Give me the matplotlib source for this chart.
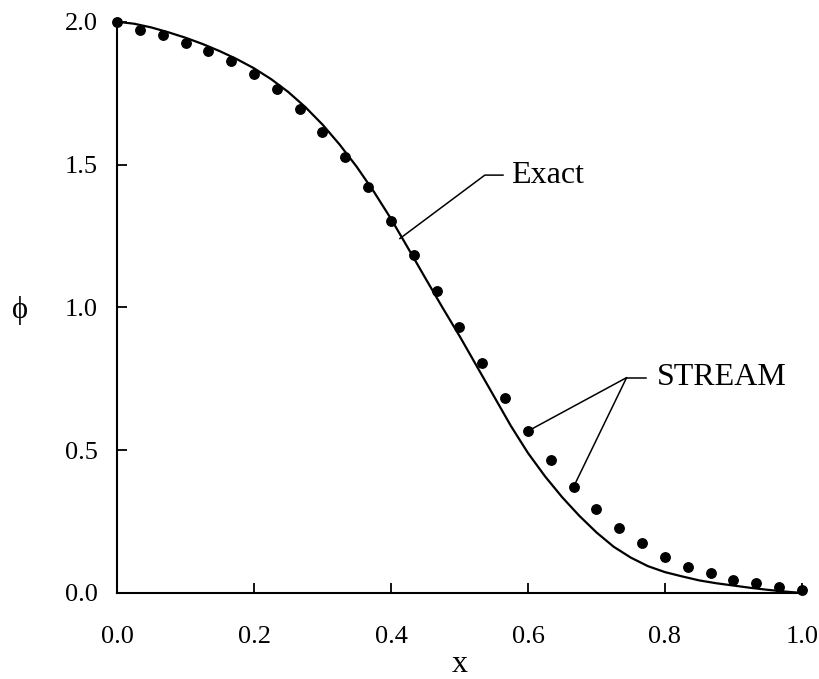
import numpy as np
import matplotlib
matplotlib.use("Agg")
import matplotlib.pyplot as plt

# values

# exact solution (solid curve)
exact_x = [0.0, 0.025, 0.05, 0.075, 0.10, 0.125, 0.15, 0.175, 0.20, 0.225, 0.25, 0.275,
           0.30, 0.325, 0.35, 0.375, 0.40, 0.425, 0.45, 0.475, 0.50, 0.525, 0.55, 0.575,
           0.60, 0.625, 0.65, 0.675, 0.70, 0.725, 0.75, 0.775, 0.80, 0.825, 0.85, 0.875,
           0.90, 0.925, 0.95, 0.975, 1.0]
exact_y = [2.0, 1.993, 1.980, 1.963, 1.944, 1.922, 1.897, 1.869, 1.837, 1.799, 1.754, 1.701,
           1.640, 1.570, 1.492, 1.405, 1.310, 1.207, 1.103, 1.000, 0.900, 0.795, 0.690, 0.585,
           0.490, 0.408, 0.335, 0.270, 0.212, 0.162, 0.124, 0.094, 0.073, 0.058, 0.044, 0.034,
           0.026, 0.018, 0.011, 0.005, 0.0]

# STREAM results (dots), 31 nodes
stream_x = [i / 30 for i in range(31)]
stream_y = [2.0, 1.971, 1.953, 1.924, 1.898, 1.862, 1.817, 1.763, 1.696, 1.615, 1.527,
            1.420, 1.302, 1.183, 1.057, 0.931, 0.805, 0.682, 0.567, 0.467, 0.372,
            0.293, 0.226, 0.174, 0.127, 0.091, 0.069, 0.045, 0.034, 0.022, 0.010]

x_ticks = [0.0, 0.2, 0.4, 0.6, 0.8, 1.0]
y_ticks = [0.0, 0.5, 1.0, 1.5, 2.0]

serif = ['Liberation Serif', 'DejaVu Serif']
plt.rcParams['font.family'] = serif

fig = plt.figure(figsize=(8.2, 6.79), dpi=100)
ax = fig.add_axes([0.1427, 0.1267, 0.8353, 0.8413])

ax.plot(exact_x, exact_y, color='black', lw=1.6, zorder=2)
ax.plot(stream_x, stream_y, 'o', color='black', ms=6.8, zorder=3, clip_on=False)

ax.set_xlim(0, 1.0)
ax.set_ylim(0, 2.0)
ax.set_xticks(x_ticks)
ax.set_yticks(y_ticks)
ax.set_xticklabels(['%.1f' % v for v in x_ticks])
ax.set_yticklabels(['%.1f' % v for v in y_ticks])
ax.tick_params(direction='in', length=7, width=1.3, labelsize=19, colors='black')
ax.tick_params(axis='x', pad=24)
ax.tick_params(axis='y', pad=14)

for s in ['top', 'right']:
    ax.spines[s].set_visible(False)
for s in ['left', 'bottom']:
    ax.spines[s].set_linewidth(1.5)

ax.set_xlabel('x', fontsize=23)
ax.xaxis.label.set_va('baseline')
ax.xaxis.set_label_coords(0.5, -0.138)
ax.set_ylabel('\u03d5', fontsize=22, rotation=0)
ax.yaxis.label.set_va('center')
ax.yaxis.label.set_ha('center')
ax.yaxis.set_label_coords(-0.1416, 0.495)

# leader for the exact curve
ax.plot([0.413, 0.537, 0.5635], [1.241, 1.463, 1.463], color='black', lw=1.1)
ax.text(0.576, 1.463, 'Exact', fontsize=23, ha='left', va='center')

# leaders for STREAM dots
jx, jy = 0.744, 0.754
for i in [18, 20]:
    ax.annotate('', xy=(stream_x[i], stream_y[i]), xytext=(jx, jy),
                arrowprops=dict(arrowstyle='-', lw=1.1, color='black',
                                shrinkA=0, shrinkB=3.5))
ax.plot([jx, 0.773], [jy, jy], color='black', lw=1.1)
ax.text(0.788, jy, 'STREAM', fontsize=23, ha='left', va='center')

fig.savefig('out.png', dpi=100, facecolor='white')
